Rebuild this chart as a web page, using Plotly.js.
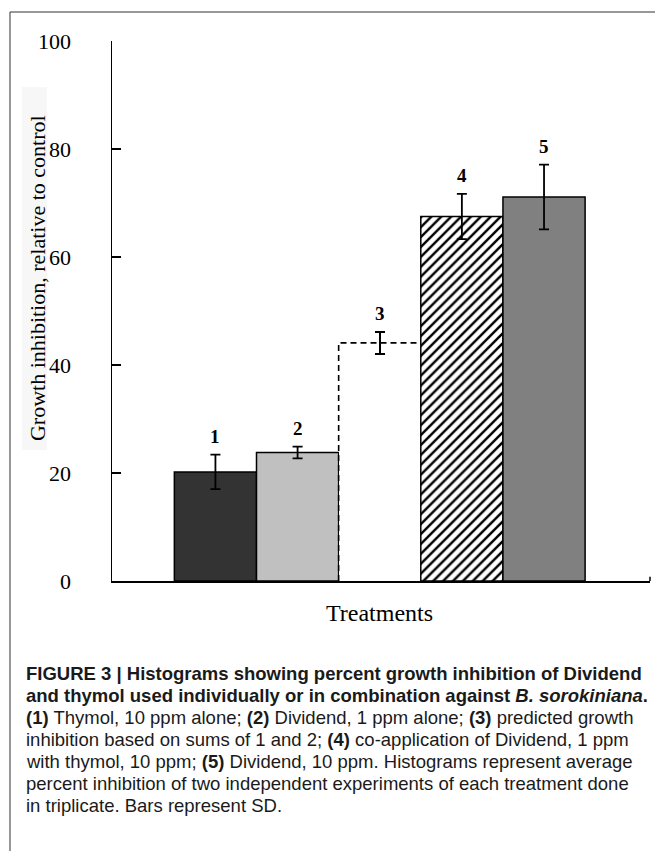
<!DOCTYPE html>
<html><head><meta charset="utf-8">
<script src="https://cdn.plot.ly/plotly-3.0.1.min.js"></script>
<style>html,body{margin:0;padding:0;background:#fff;}#chart{width:655px;height:851px;}</style>
</head><body><div id="chart"></div>
<script>
// ---- data ----
const labels = ["1", "2", "3", "4", "5"];
const values = [20.2, 23.8, 44.1, 67.5, 71.1];
const sd     = [3.2, 1.1, 2.0, 4.2, 6.0];
const yTicks = [0, 20, 40, 60, 80, 100];
const yTitle = "Growth inhibition, relative to control";
const xTitle = "Treatments";
const caption = [
  "<b>FIGURE 3 | Histograms showing percent growth inhibition of Dividend</b>",
  "<b>and thymol used individually or in combination against <i>B. sorokiniana</i>.</b>",
  "<b>(1)</b> Thymol, 10 ppm alone; <b>(2)</b> Dividend, 1 ppm alone; <b>(3)</b> predicted growth",
  "inhibition based on sums of 1 and 2; <b>(4)</b> co-application of Dividend, 1 ppm",
  "with thymol, 10 ppm; <b>(5)</b> Dividend, 10 ppm. Histograms represent average",
  "percent inhibition of two independent experiments of each treatment done",
  "in triplicate. Bars represent SD."
];

const xs = labels.map((_, i) => i);
const fills = ["#333333", "#c0c0c0", "#ffffff", "#ffffff", "#808080"];
const patterns = ["", "", "", "/", ""];

// one trace per bar so each can carry its own style
const barTraces = xs.map((x, i) => ({
  type: "bar", x: [x], y: [values[i]], width: 1,
  marker: Object.assign({
    color: fills[i],
    line: {color: "#000", width: i === 2 ? 0 : 1.5}
  }, patterns[i] ? {pattern: {shape: patterns[i], fgcolor: "#000", bgcolor: "#fff", size: 7, solidity: 0.35, fillmode: "replace"}} : {}),
  error_y: {type: "data", array: [sd[i]], visible: true, color: "#000", thickness: 1.8, width: 5},
  hoverinfo: "none", showlegend: false
}));

// dashed outline of predicted bar (index 2)
const pi = 2;
const dashed = {
  type: "scatter", mode: "lines",
  x: [xs[pi] - 0.5, xs[pi] - 0.5, xs[pi] + 0.5],
  y: [0, values[pi], values[pi]],
  line: {color: "#000", width: 1.6, dash: "6px,4px"},
  hoverinfo: "none", showlegend: false
};

const serif = "Liberation Serif, Times New Roman, serif";
const sans = "Liberation Sans, Arial, sans-serif";

const annotations = labels.map((t, i) => ({
  x: xs[i], y: values[i] + sd[i], xref: "x", yref: "y",
  text: "<b>" + t + "</b>", showarrow: false, yanchor: "bottom", yshift: 6,
  font: {family: serif, size: 19, color: "#000"}
}));
annotations.push({
  x: -0.1394, y: 0.561, xref: "paper", yref: "paper", textangle: -90,
  xanchor: "center", yanchor: "middle",
  text: yTitle, showarrow: false, font: {family: serif, size: 22, color: "#000"}
});
annotations.push({
  x: 2, y: -0.0593, xref: "x", yref: "paper", text: xTitle, showarrow: false,
  xanchor: "center", yanchor: "middle", font: {family: serif, size: 24, color: "#000"}
});
caption.forEach((line, k) => {
  annotations.push({
    x: -0.1636, y: -0.1722 - k * 0.04074, xref: "paper", yref: "paper",
    xanchor: "left", yanchor: "middle", align: "left", text: line, showarrow: false,
    font: {family: sans, size: 18.5, color: "#1a1a1a"}
  });
});

const layout = {
  width: 655, height: 851,
  margin: {l: 112, r: 5, t: 41, b: 270},
  paper_bgcolor: "#fff", plot_bgcolor: "#fff",
  barmode: "overlay",
  xaxis: {range: [-1.259, 5.29], showline: true, linecolor: "#000", linewidth: 1.5,
          showgrid: false, zeroline: false, showticklabels: false, ticks: "", fixedrange: true},
  yaxis: {range: [0, 100], tickvals: yTicks, ticks: "inside", ticklen: 9, tickwidth: 1.5,
          tickcolor: "#000", showline: true, linecolor: "#000", linewidth: 1.5,
          showgrid: false, zeroline: false, ticklabelstandoff: 35,
          tickfont: {family: serif, size: 22, color: "#000"}},
  shapes: [
    {type: "rect", xref: "paper", yref: "paper", x0: -0.1896, x1: 1.2, y0: -0.7, y1: 1.0537,
     line: {color: "#333", width: 1}, fillcolor: "rgba(0,0,0,0)", layer: "below"},
    {type: "rect", xref: "paper", yref: "paper", x0: -0.1673, x1: -0.1208, y0: 0.2426, y1: 0.9148,
     line: {width: 0}, fillcolor: "#f7f7f7", layer: "below"},
    {type: "line", xref: "paper", yref: "paper", x0: 1, x1: 1, y0: 0, y1: 0.008,
     line: {color: "#000", width: 1.5}}
  ],
  annotations: annotations,
  bargap: 0
};

Plotly.newPlot("chart", barTraces.concat([dashed]), layout, {displayModeBar: false, staticPlot: true});
</script></body></html>
